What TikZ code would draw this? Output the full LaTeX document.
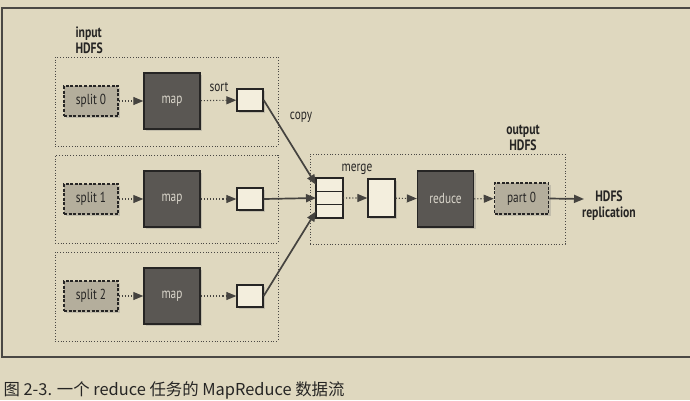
\documentclass[tikz,border=0pt]{standalone}
\usepackage{fontspec}
\setmainfont{PT Sans}[FakeStretch=0.78]
\newfontfamily\cjkfont{Noto Sans CJK SC}
\usetikzlibrary{positioning, arrows.meta, shadows}
\definecolor{paper}{HTML}{DFD8BF}
\definecolor{ink}{HTML}{262524}
\definecolor{frameline}{HTML}{4A4844}
\definecolor{taskgray}{HTML}{5A5753}
\definecolor{splitgray}{HTML}{B4AE9C}
\definecolor{bufwhite}{HTML}{F3EEDD}
\definecolor{arrowgray}{HTML}{45433F}
\definecolor{tasktext}{HTML}{D9D5CA}
\tikzset{
    x=1pt, y=-1pt, % pixel-like units, y grows downwards
    >={Triangle[length=10pt,width=8pt]}, % filled arrow heads
    every node/.style={font=\fontsize{14.5}{15}\selectfont, text=ink}, % body text
    head/.style={font=\bfseries\fontsize{15}{16}\selectfont, align=center}, % bold labels
    group/.style={draw=frameline, dotted, line width=0.8pt, inner sep=0pt}, % dotted frames
    splitbox/.style={draw=ink, fill=splitgray, line width=1.5pt, dash pattern=on 3pt off 1.6pt,
        minimum width=54pt, minimum height=30pt, inner sep=0pt,
        drop shadow={shadow xshift=2pt, shadow yshift=-2pt, opacity=.3}}, % input/output splits
    task/.style={draw=ink, fill=taskgray, line width=1.4pt, minimum size=56pt, inner sep=0pt,
        text=tasktext, drop shadow={shadow xshift=2pt, shadow yshift=-2pt, opacity=.3}}, % map and reduce
    buffer/.style={draw=ink, fill=bufwhite, line width=1.3pt, minimum width=26pt, minimum height=22pt,
        inner sep=0pt, drop shadow={shadow xshift=2pt, shadow yshift=-2pt, opacity=.3}}, % sorted output
    cell/.style={draw=ink, fill=bufwhite, line width=1.3pt, minimum width=27pt, minimum height=13.3pt,
        inner sep=0pt, outer sep=0pt}, % one slot of the merge stack
    flow/.style={->, draw=arrowgray, dotted, line width=1.1pt}, % local steps
    copyline/.style={->, draw=arrowgray, line width=1.7pt}, % network copy
}
\begin{document}
\begin{tikzpicture}
    \useasboundingbox[fill=paper] (0,0) rectangle (690,400);
    \draw[frameline, line width=1.2pt] (690,8) -- (2,8) -- (2,357) -- (690,357);

    % map side
    \node[head, align=left, anchor=west] (inlabel) at (72,40) {input\\HDFS};
    \node[group, minimum width=223pt, minimum height=89pt] (grp0) at (166.5,101.5) {};
    \node[group, minimum width=223pt, minimum height=88pt] (grp1) at (166.5,199) {};
    \node[group, minimum width=223pt, minimum height=89pt] (grp2) at (166.5,296.5) {};

    \node[splitbox] (split0) at (91,101) {split 0};
    \node[task] (map0) at (172,101) {map};
    \node[buffer] (buf0) at (250,100) {};
    \node[splitbox] (split1) at (91,199) {split 1};
    \node[task] (map1) at (172,199) {map};
    \node[buffer] (buf1) at (250,199) {};
    \node[splitbox] (split2) at (91,296) {split 2};
    \node[task] (map2) at (172,296) {map};
    \node[buffer] (buf2) at (250,296) {};

    \node (sort) at (219,87) {sort};
    \node (copy) at (301,117) {copy};

    % reduce side
    \node[group, minimum width=255pt, minimum height=90pt] (grpout) at (437.5,199) {};
    \node[head] (outlabel) at (523,138) {output\\HDFS};
    \node[cell] (cell1) at (329.5,184.7) {};
    \node[cell, below=0pt of cell1] (cell2) {};
    \node[cell, below=0pt of cell2] (cell3) {};
    \node (merge) at (357,169) {merge};
    \node[buffer, minimum width=27pt, minimum height=38pt] (merged) at (381.5,198) {};
    \node[task] (reduce) at (445.5,199) {reduce};
    \node[splitbox, minimum height=31pt] (part0) at (521.5,198.5) {part 0};
    \coordinate (repl) at (584,199);
    \node[head] (repllabel) at (609,206) {HDFS\\replication};

    \draw[flow] (split0) -- (map0);
    \draw[flow] (map0) -- (buf0);
    \draw[flow] (split1) -- (map1);
    \draw[flow] (map1) -- (buf1);
    \draw[flow] (split2) -- (map2);
    \draw[flow] (map2) -- (buf2);
    \draw[copyline] (buf0.east) -- (cell1.west);
    \draw[copyline] (buf1.east) -- (cell2.west);
    \draw[copyline] (buf2.east) -- (cell3.west);
    \draw[flow] (cell2.east) -- (merged.west);
    \draw[flow] (merged) -- (reduce);
    \draw[flow] (reduce) -- (part0);
    \draw[copyline] (part0.east) -- (repl);

    \node[anchor=west, font=\cjkfont\fontsize{16.4}{18}\selectfont, text=ink] (caption) at (0,390)
        {图 2-3. 一个 reduce 任务的 MapReduce 数据流};
\end{tikzpicture}
\end{document}
